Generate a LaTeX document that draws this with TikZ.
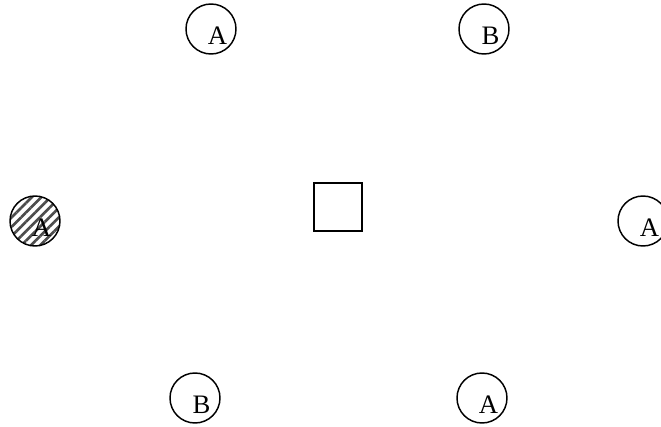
\documentclass[tikz,border=0pt]{standalone}
\usepackage{fontspec}
\setmainfont{Liberation Serif}
\usetikzlibrary{patterns.meta}

\begin{document}
\begin{tikzpicture}[
    x=0.75pt, y=-0.75pt,
    ring/.style={circle, draw=black, line width=1.1pt, minimum size=37.5pt, inner sep=0pt},
    striped/.style={ring, pattern={Lines[angle=45, distance=5pt, line width=2pt]}, pattern color=black!70},
    letter/.style={xshift=4.9pt, yshift=-5.2pt, inner sep=0pt, font=\fontsize{20}{24}\selectfont},
    square/.style={rectangle, draw=black, line width=1.4pt, minimum size=36pt, inner sep=0pt}
]
\useasboundingbox (0,0) rectangle (661,427);

\node[square] (core) at (338,207) {};

\node[ring, label={[letter]center:A}]    (top_a)   at (211,29)  {};
\node[ring, label={[letter]center:B}]    (top_b)   at (484,29)  {};
\node[striped, label={[letter]center:A}] (left_a)  at (35,221)  {};
\node[ring, label={[letter]center:A}]    (right_a) at (643,221) {};
\node[ring, label={[letter]center:B}]    (bot_b)   at (195,398) {};
\node[ring, label={[letter]center:A}]    (bot_a)   at (482,398) {};
\end{tikzpicture}
\end{document}
